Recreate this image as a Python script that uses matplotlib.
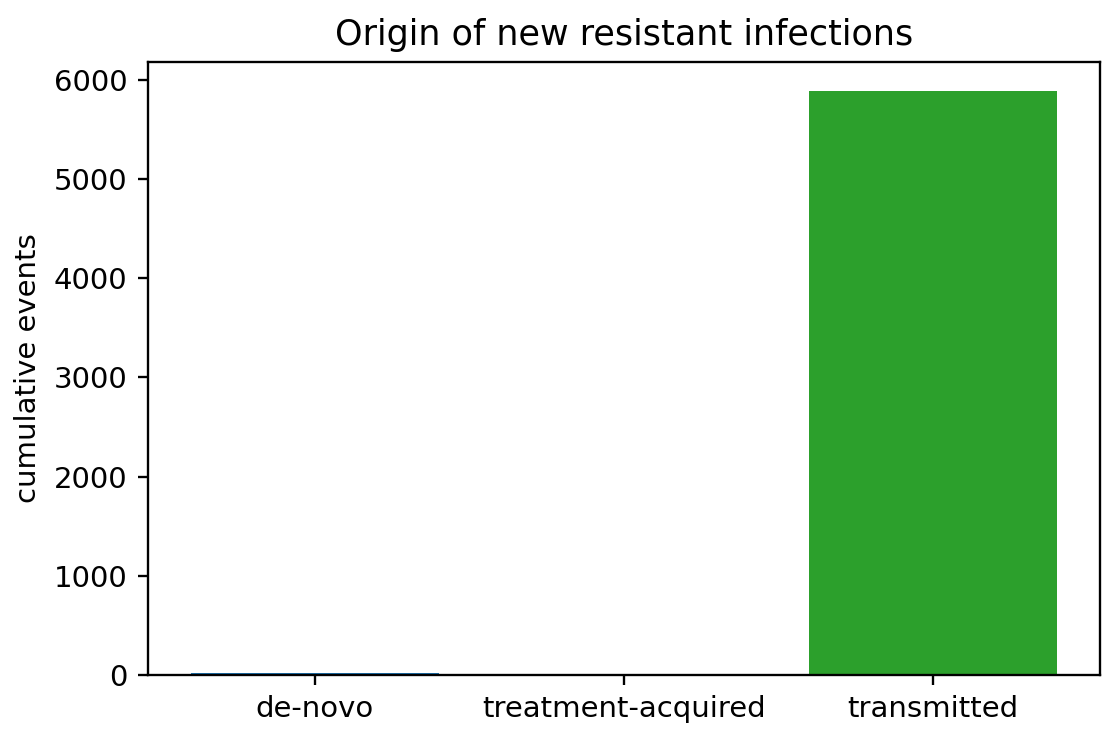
import matplotlib
matplotlib.use("Agg")
import matplotlib.pyplot as plt

categories = ["de-novo", "treatment-acquired", "transmitted"]
values = [20, 0, 5885]
colors = ["tab:blue", "tab:orange", "tab:green"]

DPI = 210
fig = plt.figure(figsize=(1119/DPI, 742/DPI), dpi=DPI)
ax = fig.add_axes([148/1119, 1 - 675/742, (1100-148)/1119, (675-62)/742])
ax.bar(categories, values, color=colors)
ax.set_title("Origin of new resistant infections")
ax.set_ylabel("cumulative events")
fig.savefig("out.png", dpi=DPI)
